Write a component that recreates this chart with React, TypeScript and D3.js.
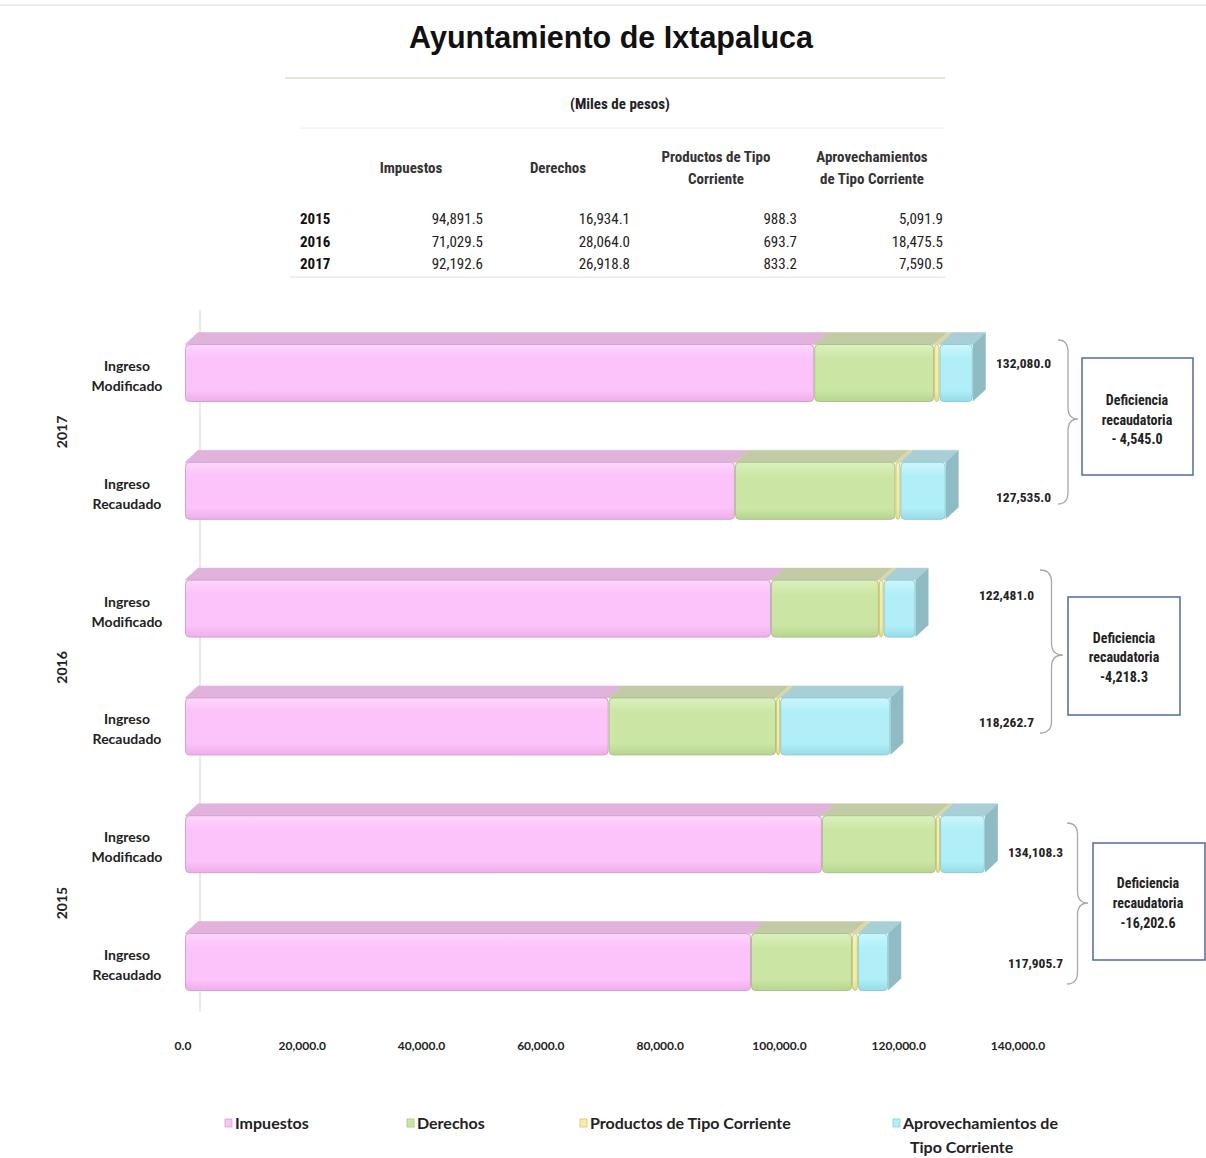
import React from 'react';
import * as d3 from 'd3';

// ---------- DATA ----------
const seriesNames = ['Impuestos', 'Derechos', 'Productos de Tipo Corriente', 'Aprovechamientos de Tipo Corriente'];
const tableHeaders = [['Impuestos'], ['Derechos'], ['Productos de Tipo', 'Corriente'], ['Aprovechamientos', 'de Tipo Corriente']];
const tableYears = ['2015', '2016', '2017'];

const rec2015 = [94891.5, 16934.1, 988.3, 5091.9];
const rec2016 = [71029.5, 28064.0, 693.7, 18475.5];
const rec2017 = [92192.6, 26918.8, 833.2, 7590.5];
const mod2015 = [106790, 19110, 700, 7508.3];
const mod2016 = [98240, 18100, 800, 5341];
const mod2017 = [105500, 20100, 900, 5580];

const rowYears = ['2017', '2017', '2016', '2016', '2015', '2015'];
const rowKinds = ['Modificado', 'Recaudado', 'Modificado', 'Recaudado', 'Modificado', 'Recaudado'];
const rowValues = [mod2017, rec2017, mod2016, rec2016, mod2015, rec2015];
const totalLabels = ['132,080.0', '127,535.0', '122,481.0', '118,262.7', '134,108.3', '117,905.7'];
const groupYears = ['2017', '2016', '2015'];
const deficiencyLabels = ['- 4,545.0', '-4,218.3', '-16,202.6'];
const xTicks = [0, 20000, 40000, 60000, 80000, 100000, 120000, 140000];

// ---------- STYLE / LAYOUT ----------
const W = 1206;
const H = 1158;
const front = ['#fcc2fa', '#cbe6a4', '#f3eda6', '#b0eff8'];
const frontLight = ['#fdd6fc', '#dcf0bf', '#f8f3c4', '#ccf6fb'];
const frontDark = ['#eeaeeb', '#b6d58f', '#e2db8c', '#98dbe6'];
const topCol = ['#e0b2dc', '#c2cba6', '#dcd8a4', '#a9cfd6'];
const sideCol = ['#d19ccd', '#a9b88c', '#c8c28a', '#8fbcc4'];
const edgeCol = ['#d6a0d2', '#a8c486', '#d3c873', '#8ccdd8'];

const annot = [
  { braceX: 1058, braceW: 20, top: 340, bot: 504, tip: 419, labelRight: 1051, modY: 363, recY: 497, box: [1082, 358, 111, 117], textX: 1137, textY: [400, 420, 439] },
  { braceX: 1040, braceW: 23, top: 570, bot: 733, tip: 655, labelRight: 1034, modY: 595, recY: 722, box: [1068, 597, 112, 118], textX: 1124, textY: [638, 657, 677] },
  { braceX: 1067, braceW: 21, top: 823, bot: 984, tip: 903, labelRight: 1063, modY: 852, recY: 963, box: [1093, 843, 112, 117], textX: 1148, textY: [883, 903, 923] },
];
const legendX = [229, 411, 584, 897];

const narrow = "'Liberation Sans Narrow', 'Arial Narrow', 'Roboto Condensed', 'Liberation Sans', Arial, sans-serif";
const calib = "Lato, 'Open Sans', sans-serif";

function bracePath(x0: number, w: number, top: number, bot: number, tip: number) {
  const xm = x0 + w / 2;
  const r = 12;
  return `M${x0},${top} Q${xm},${top} ${xm},${top + r} L${xm},${tip - r} Q${xm},${tip} ${x0 + w},${tip} Q${xm},${tip} ${xm},${tip + r} L${xm},${bot - r} Q${xm},${bot} ${x0},${bot}`;
}

export default function App() {
  const x = d3.scaleLinear().domain([0, 140000]).range([185, 1020]);
  const y = d3.scalePoint<number>().domain(d3.range(rowValues.length)).range([373, 962]);
  const half = 28.5;
  const dx = 13;
  const dy = -12;
  const fmt = d3.format(',.1f');
  const tableRows = [rec2015, rec2016, rec2017];
  const tableValueX = [483, 630, 797, 943];
  const headerX = [411, 558, 716, 872];

  return (
    <svg width={W} height={H} style={{ position: 'absolute', left: 0, top: 0, background: '#fff' }}>
      <defs>
        {front.map((c, i) => (
          <linearGradient key={i} id={`fg${i}`} x1="0" y1="0" x2="0" y2="1">
            <stop offset="0" stopColor={frontLight[i]} />
            <stop offset="0.25" stopColor={c} />
            <stop offset="0.8" stopColor={c} />
            <stop offset="1" stopColor={frontDark[i]} />
          </linearGradient>
        ))}
      </defs>
      <rect x={0} y={0} width={W} height={H} fill="#fff" />
      <line x1={0} x2={W} y1={5} y2={5} stroke="#e4e4e4" strokeWidth={1.5} />

      {/* Title */}
      <text x={611} y={48} textAnchor="middle" fontFamily="'Liberation Sans', Arial, sans-serif" fontWeight={700} fontSize={30.5} fill="#111">
        Ayuntamiento de Ixtapaluca
      </text>
      <line x1={285} x2={945} y1={78} y2={78} stroke="#e2dcc6" strokeWidth={1.5} />
      <text x={620} y={109} textAnchor="middle" fontFamily={narrow} fontWeight={700} fontSize={15} fill="#222">(Miles de pesos)</text>
      <line x1={300} x2={945} y1={128} y2={128} stroke="#eeeeee" strokeWidth={1} />

      {/* Table */}
      {tableHeaders.map((lines, i) => (
        <text key={i} x={headerX[i]} textAnchor="middle" fontFamily={narrow} fontWeight={700} fontSize={15} fill="#333">
          {lines.map((l, j) => (
            <tspan key={j} x={headerX[i]} y={lines.length === 1 ? 173 : 162 + j * 22}>{l}</tspan>
          ))}
        </text>
      ))}
      {tableYears.map((yr, r) => (
        <g key={yr}>
          <text x={300} y={224 + r * 22.5} fontFamily={narrow} fontWeight={700} fontSize={15} fill="#111">{yr}</text>
          {tableRows[r].map((v, c) => (
            <text key={c} x={tableValueX[c]} y={224 + r * 22.5} textAnchor="end" fontFamily={narrow} fontSize={15} fill="#222">{fmt(v)}</text>
          ))}
        </g>
      ))}
      <line x1={290} x2={945} y1={277} y2={277} stroke="#e8e8e8" strokeWidth={1.5} />

      {/* Back wall axis line */}
      <line x1={x(0) + dx + 2} x2={x(0) + dx + 2} y1={310} y2={1012} stroke="#dcdcdc" strokeWidth={1.2} />

      {/* Bars */}
      {rowValues.map((vals, r) => {
        const cum = [0, ...Array.from(d3.cumsum(vals))];
        const cy = y(r) as number;
        const yt = cy - half;
        const yb = cy + half;
        const n = vals.length;
        const xEnd = x(cum[n]);
        return (
          <g key={r}>
            {vals.map((v, i) => {
              const x0 = x(cum[i]);
              const x1 = x(cum[i + 1]);
              return (
                <polygon key={`t${i}`} points={`${x0},${yt} ${x0 + dx},${yt + dy} ${x1 + dx},${yt + dy} ${x1},${yt}`} fill={topCol[i]} stroke={topCol[i]} strokeWidth={0.5} />
              );
            })}
            <polygon points={`${xEnd},${yt} ${xEnd + dx},${yt + dy} ${xEnd + dx},${yb + dy} ${xEnd},${yb}`} fill={sideCol[n - 1]} />
            {vals.map((v, i) => {
              const x0 = x(cum[i]);
              const x1 = x(cum[i + 1]);
              return (
                <rect key={`f${i}`} x={x0 + 0.5} y={yt} width={Math.max(0.8, x1 - x0 - 1)} height={yb - yt} rx={4} fill={`url(#fg${i})`} stroke={edgeCol[i]} strokeWidth={1} />
              );
            })}
          </g>
        );
      })}

      {/* Row labels */}
      {rowKinds.map((k, r) => {
        const cy = y(r) as number;
        return (
          <text key={r} textAnchor="middle" fontFamily={calib} fontWeight={700} fontSize={14} fill="#222">
            <tspan x={127} y={cy - 2}>Ingreso</tspan>
            <tspan x={127} y={cy + 18}>{k}</tspan>
          </text>
        );
      })}
      {groupYears.map((g, gi) => {
        const cy = ((y(gi * 2) as number) + (y(gi * 2 + 1) as number)) / 2;
        return (
          <text key={g} transform={`translate(67,${cy}) rotate(-90)`} textAnchor="middle" fontFamily={calib} fontWeight={700} fontSize={14} fill="#222">{g}</text>
        );
      })}

      {/* X axis labels */}
      {xTicks.map((t) => (
        <text key={t} x={x(t) - 2} y={1050} textAnchor="middle" fontFamily={calib} fontWeight={700} fontSize={12} fill="#222">{fmt(t)}</text>
      ))}

      {/* Annotations */}
      {annot.map((a, gi) => (
        <g key={gi}>
          <text x={a.labelRight} y={a.modY + 5} textAnchor="end" fontFamily={narrow} fontWeight={700} fontSize={13.5} fill="#222">{totalLabels[gi * 2]}</text>
          <text x={a.labelRight} y={a.recY + 5} textAnchor="end" fontFamily={narrow} fontWeight={700} fontSize={13.5} fill="#222">{totalLabels[gi * 2 + 1]}</text>
          <path d={bracePath(a.braceX, a.braceW, a.top, a.bot, a.tip)} fill="none" stroke="#a8a8a8" strokeWidth={1.3} />
          <rect x={a.box[0]} y={a.box[1]} width={a.box[2]} height={a.box[3]} fill="#fff" stroke="#4f6aa0" strokeWidth={1.5} />
          {['Deficiencia', 'recaudatoria', deficiencyLabels[gi]].map((l, j) => (
            <text key={j} x={a.textX} y={a.textY[j] + 5} textAnchor="middle" fontFamily={narrow} fontWeight={700} fontSize={14} fill="#222">{l}</text>
          ))}
        </g>
      ))}

      {/* Legend */}
      {seriesNames.map((s, i) => {
        const lines = i === 3 ? ['Aprovechamientos de', 'Tipo Corriente'] : [s];
        return (
          <g key={s}>
            <rect x={legendX[i] - 4} y={1119} width={7} height={8} fill={front[i]} stroke={edgeCol[i]} strokeWidth={0.8} />
            <text fontFamily={calib} fontWeight={700} fontSize={16} fill="#222">
              {lines.map((l, j) => (
                <tspan key={j} x={j === 0 ? legendX[i] + 6 : legendX[i] + 13} y={1129 + j * 24}>{l}</tspan>
              ))}
            </text>
          </g>
        );
      })}
    </svg>
  );
}
